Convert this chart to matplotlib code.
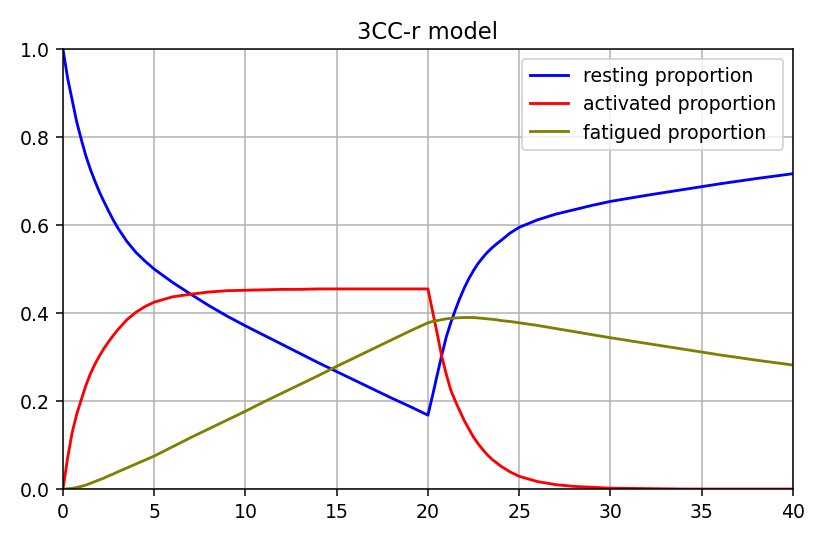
import matplotlib
matplotlib.use('Agg')
import matplotlib.pyplot as plt

# time points
t = [0, 0.25, 0.5, 0.75, 1, 1.25, 1.5, 1.75, 2, 2.25, 2.5, 2.75, 3, 3.5, 4,
     4.5, 5, 6, 7, 8, 9, 10, 11, 12, 13, 14, 15, 16, 17, 18, 19, 20, 20.25,
     20.5, 20.75, 21, 21.25, 21.5, 21.75, 22, 22.25, 22.5, 22.75, 23, 23.25,
     23.5, 23.75, 24, 24.5, 25, 26, 27, 28, 29, 30, 32, 34, 36, 38, 40]

resting = [1.0, 0.935, 0.885, 0.835, 0.795, 0.758, 0.727, 0.700, 0.675,
           0.653, 0.632, 0.612, 0.594, 0.563, 0.538, 0.518, 0.500, 0.470,
           0.443, 0.417, 0.393, 0.371, 0.350, 0.329, 0.308, 0.287, 0.267,
           0.247, 0.227, 0.207, 0.188, 0.168, 0.212, 0.258, 0.303, 0.345,
           0.378, 0.407, 0.434, 0.458, 0.479, 0.497, 0.513, 0.526, 0.538,
           0.548, 0.557, 0.565, 0.582, 0.595, 0.612, 0.625, 0.635, 0.645,
           0.654, 0.668, 0.681, 0.694, 0.706, 0.717]

activated = [0.0, 0.07, 0.128, 0.17, 0.203, 0.235, 0.262, 0.284, 0.303,
             0.320, 0.335, 0.349, 0.362, 0.385, 0.402, 0.415, 0.425, 0.437,
             0.443, 0.448, 0.451, 0.452, 0.453, 0.454, 0.454, 0.455, 0.455,
             0.455, 0.455, 0.455, 0.455, 0.455, 0.405, 0.355, 0.303, 0.262,
             0.225, 0.200, 0.177, 0.155, 0.136, 0.118, 0.103, 0.090, 0.078,
             0.068, 0.060, 0.052, 0.039, 0.029, 0.017, 0.010, 0.006, 0.004,
             0.002, 0.001, 0.0, 0.0, 0.0, 0.0]

fatigued = [0.0, 0.0004, 0.0015, 0.0035, 0.006, 0.009, 0.013, 0.017, 0.021,
            0.025, 0.030, 0.034, 0.039, 0.048, 0.057, 0.066, 0.075, 0.096,
            0.117, 0.137, 0.157, 0.177, 0.198, 0.218, 0.238, 0.258, 0.279,
            0.299, 0.319, 0.339, 0.359, 0.378, 0.381, 0.383, 0.385, 0.387,
            0.388, 0.389, 0.3895, 0.390, 0.390, 0.390, 0.389, 0.388, 0.387,
            0.386, 0.385, 0.383, 0.381, 0.378, 0.372, 0.365, 0.358, 0.351,
            0.344, 0.331, 0.318, 0.305, 0.293, 0.282]

fig, ax = plt.subplots(figsize=(6, 4), dpi=135.67)
fig.subplots_adjust(left=0.0774, right=0.974, top=0.908, bottom=0.0976)

ax.plot(t, resting, color='blue', label='resting proportion')
ax.plot(t, activated, color='red', label='activated proportion')
ax.plot(t, fatigued, color='olive', label='fatigued proportion')

ax.set_xlim(0, 40)
ax.set_ylim(0, 1)
ax.set_title('3CC-r model')
ax.grid(True)
ax.legend(loc='upper right')

plt.savefig('out.png')
